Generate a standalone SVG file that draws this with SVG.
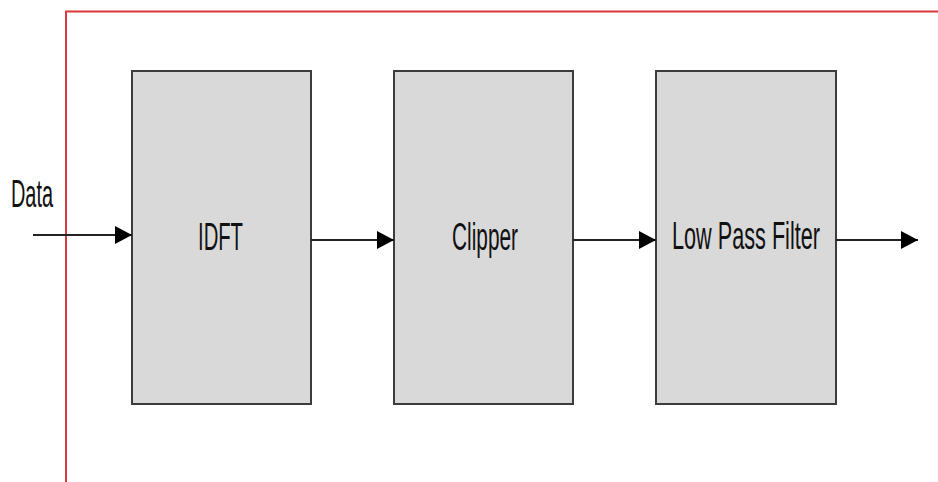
<svg xmlns="http://www.w3.org/2000/svg" width="938" height="482" viewBox="0 0 938 482">
<style>
.box{fill:#d9d9d9;stroke:#3c3c3c;stroke-width:2}
.lbl{font-family:"Liberation Sans",Arial,sans-serif;font-size:38px;fill:#111}
.conn{stroke:#222;stroke-width:2;fill:none}
</style>
<defs>
<marker id="ah" markerWidth="18" markerHeight="18" refX="17" refY="9" orient="auto" markerUnits="userSpaceOnUse">
<path d="M0,0 L17,9 L0,18 Z" fill="#000"/>
</marker>
</defs>
<rect width="938" height="482" fill="#fff"/>
<g id="frame">
<path d="M66,482 V11.5 H938" fill="none" stroke="#d9393c" stroke-width="2"/>
</g>
<g id="data-label"><text class="lbl" x="11" y="207" textLength="42" lengthAdjust="spacingAndGlyphs">Data</text></g>
<g id="idft"><rect class="box" x="132" y="71" width="179" height="333"/><text class="lbl" x="198" y="250" textLength="45" lengthAdjust="spacingAndGlyphs">IDFT</text></g>
<g id="clipper"><rect class="box" x="394" y="71" width="179" height="333"/><text class="lbl" x="452" y="250" textLength="66" lengthAdjust="spacingAndGlyphs">Clipper</text></g>
<g id="lpf"><rect class="box" x="656" y="71" width="180" height="333"/><text class="lbl" x="672" y="249" textLength="148" lengthAdjust="spacingAndGlyphs">Low Pass Filter</text></g>
<g id="connectors">
<line class="conn" x1="33" y1="235" x2="132" y2="235" marker-end="url(#ah)"/>
<line class="conn" x1="311" y1="240" x2="394" y2="240" marker-end="url(#ah)"/>
<line class="conn" x1="573" y1="240" x2="656" y2="240" marker-end="url(#ah)"/>
<line class="conn" x1="836" y1="240" x2="918" y2="240" marker-end="url(#ah)"/>
</g>
</svg>
